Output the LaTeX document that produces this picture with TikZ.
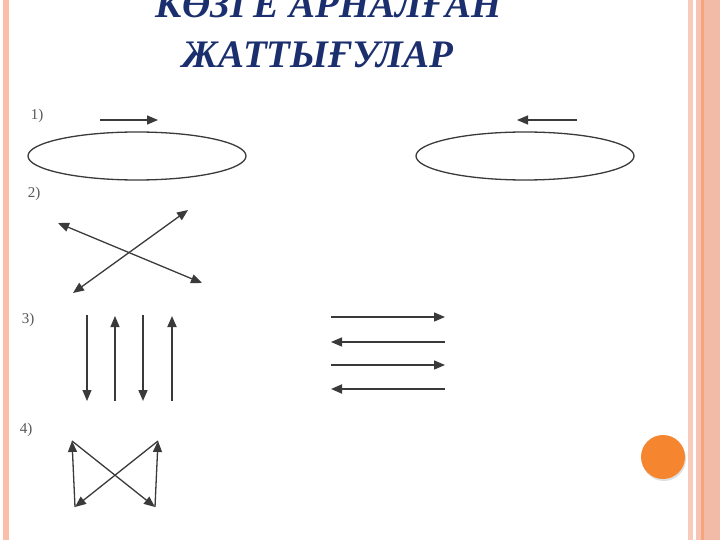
\documentclass[tikz,border=0pt]{standalone}
\usepackage{fontspec}
\setmainfont{Liberation Serif}
\usetikzlibrary{arrows.meta}
\definecolor{titleblue}{HTML}{1B2F6E}
\definecolor{inkgray}{HTML}{3A3A3A}
\definecolor{leftpink}{HTML}{F9BFA9}
\definecolor{rightpink}{HTML}{F9CBBB}
\definecolor{palepink}{HTML}{F6C4B2}
\definecolor{stripeorange}{HTML}{F5A47C}
\definecolor{edgepink}{HTML}{F1BBA8}
\definecolor{dotorange}{HTML}{F5862F}
\tikzset{
  titletext/.style={text=titleblue,font=\fontsize{39}{39}\selectfont\bfseries\itshape,inner sep=0pt},
  numtext/.style={text=inkgray!85,font=\fontsize{15}{15}\selectfont,inner sep=0pt},
  arr/.style={-{Triangle[length=11pt,width=9pt]},draw=inkgray,line width=1.3pt},
  dblarr/.style={{Triangle[length=11pt,width=9pt]}-{Triangle[length=11pt,width=9pt]},draw=inkgray,line width=1.3pt}
}
\begin{document}
\begin{tikzpicture}[x=1pt,y=-1pt,line join=round]

		\useasboundingbox (0,0) rectangle (720,540);
		\fill [white] (0,0) rectangle (720,540);
		% frame
		\fill [leftpink] (3,0) rectangle (9,540);
		\fill [rightpink] (688,0) rectangle (693,540);
		\fill [palepink] (696,0) rectangle (701,540);
		\fill [stripeorange] (701,0) rectangle (704,540);
		\fill [edgepink] (704,0) rectangle (720,540);
		\fill [black!12] (664,459) circle (22);
		\fill [dotorange] (663,457) circle (22);

		\node [titletext,anchor=base] (T1) at (329,18) {КӨЗГЕ АРНАЛҒАН};
		\node [titletext,anchor=base] (T2) at (318,68) {ЖАТТЫҒУЛАР};

		\node [numtext] (N1) at (37,116) {1)};
		\node [numtext] (N2) at (34,194) {2)};
		\node [numtext] (N3) at (28,320) {3)};
		\node [numtext] (N4) at (26,430) {4)};

		% 1)
		\draw [inkgray,line width=1.3pt] (137,156) ellipse [x radius=109,y radius=24];
		\draw [inkgray,line width=1.3pt] (525,156) ellipse [x radius=109,y radius=24];
		\coordinate (A1) at (100,120) ;
		\coordinate (A2) at (158,120) ;
		\coordinate (B1) at (577,120) ;
		\coordinate (B2) at (517,120) ;
		\draw [arr] (A1) -- (A2) ;
		\draw [arr] (B1) -- (B2) ;

		% 2)
		\coordinate (C1) at (58,223) ;
		\coordinate (C2) at (202,283) ;
		\coordinate (D1) at (73,293) ;
		\coordinate (D2) at (188,210) ;
		\draw [dblarr] (C1) -- (C2) ;
		\draw [dblarr] (D1) -- (D2) ;

		% 3)
		\foreach \x/\a/\b/\w in {87/315/401/1.2,115/401/316/1.2,143/315/401/1.7,172/401/316/1.8}
			\draw [arr,line width=\w pt] (\x,\a) coordinate (V\x) -- (\x,\b) ;
		\foreach \y/\a/\b/\w in {317/331/445/1.3,342/445/331/1.4,365/331/445/1.4,389/445/331/1.8}
			\draw [arr,line width=\w pt] (\a,\y) coordinate (H\y) -- (\b,\y) ;

		% 4)
		\coordinate (TL) at (72,441) ;
		\coordinate (TR) at (158,441) ;
		\coordinate (BL) at (75,507) ;
		\coordinate (BR) at (155,507) ;
		\foreach \p/\q in {BL/TL,TL/BR,BR/TR,TR/BL}
			\draw [arr] (\p) -- (\q) ;

\end{tikzpicture}
\end{document}
